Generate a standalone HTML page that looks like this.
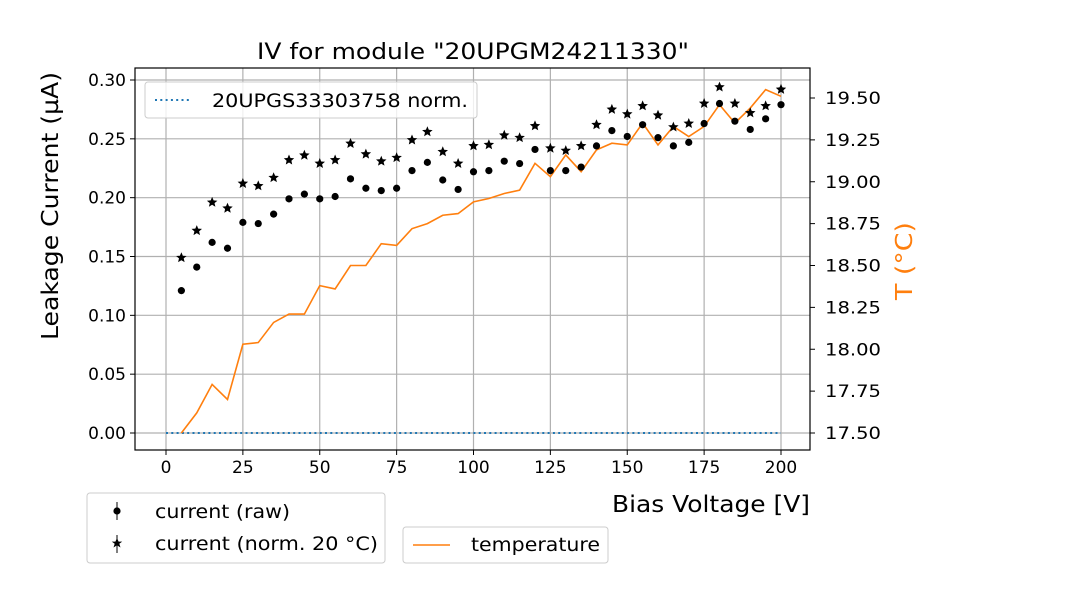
<!DOCTYPE html>
<html><head><meta charset="utf-8"><style>
body{margin:0;background:#fff;}
svg{font-family:"DejaVu Sans","Liberation Sans",sans-serif;}
</style></head><body>
<svg id="chart" width="1080" height="600" viewBox="0 0 1080 600" xmlns="http://www.w3.org/2000/svg">
<g id="grid"></g>
<g id="marks"></g>
<g id="axes"></g>
</svg>
<script>
const voltages=[5,10,15,20,25,30,35,40,45,50,55,60,65,70,75,80,85,90,95,100,105,110,115,120,125,130,135,140,145,150,155,160,165,170,175,180,185,190,195,200];
const currentRaw=[0.121,0.141,0.162,0.157,0.179,0.178,0.186,0.199,0.203,0.199,0.201,0.216,0.208,0.206,0.208,0.223,0.230,0.215,0.207,0.222,0.223,0.231,0.229,0.241,0.223,0.223,0.226,0.244,0.257,0.252,0.262,0.251,0.244,0.247,0.263,0.280,0.265,0.258,0.267,0.279];
const currentNorm=[0.149,0.172,0.196,0.191,0.212,0.210,0.217,0.232,0.236,0.229,0.232,0.246,0.237,0.231,0.234,0.249,0.256,0.239,0.229,0.244,0.245,0.253,0.251,0.261,0.242,0.240,0.244,0.262,0.275,0.271,0.278,0.270,0.260,0.263,0.280,0.294,0.280,0.272,0.278,0.292];
const temperature=[17.50,17.62,17.79,17.70,18.03,18.04,18.16,18.21,18.21,18.38,18.36,18.50,18.50,18.63,18.62,18.72,18.75,18.80,18.81,18.88,18.90,18.93,18.95,19.11,19.03,19.16,19.06,19.19,19.23,19.22,19.35,19.22,19.33,19.27,19.33,19.46,19.35,19.44,19.55,19.51];
const refX=[0,200];
const refY=[0,0];
const xTicks=[0,25,50,75,100,125,150,175,200];
const yTicks=[0.00,0.05,0.10,0.15,0.20,0.25,0.30];
const tTicks=[17.50,17.75,18.00,18.25,18.50,18.75,19.00,19.25,19.50];

const NS="http://www.w3.org/2000/svg";
const L=135,R=810,T=68,B=450;
const xs=v=>166+(v-0)*(781-166)/200;
const ys=v=>433-v*(433-80)/0.30;
const ts=v=>433-(v-17.5)*(433-98)/2.0;
function mk(tag,attrs,parent,text){const e=document.createElementNS(NS,tag);for(const k in attrs)e.setAttribute(k,attrs[k]);if(text!==undefined)e.textContent=text;parent.appendChild(e);return e;}
const grid=document.getElementById('grid'),marks=document.getElementById('marks'),axes=document.getElementById('axes');
xTicks.forEach(v=>{const l=mk('line',{x1:xs(v),x2:xs(v),y1:T,y2:B,stroke:'#b0b0b0','stroke-width':1.2},grid);

});
yTicks.forEach(v=>{const l=mk('line',{x1:L,x2:R,y1:ys(v),y2:ys(v),stroke:'#b0b0b0','stroke-width':1.2},grid);

});
const ref=mk('line',{x1:xs(refX[0]),x2:xs(refX[1]),y1:ys(refY[0]),y2:ys(refY[1]),stroke:'#1f77b4','stroke-width':2,'stroke-dasharray':'2,3.3'},marks);


const tp=mk('polyline',{points:voltages.map((v,i)=>xs(v)+','+ts(temperature[i])).join(' '),fill:'none',stroke:'#ff7f0e','stroke-width':1.6},marks);


function star(cx,cy,r){let p=[];for(let k=0;k<10;k++){const a=-Math.PI/2+k*Math.PI/5;const rr=k%2?r*0.45:r;p.push((cx+rr*Math.cos(a)).toFixed(1)+','+(cy+rr*Math.sin(a)).toFixed(1));}return p.join(' ');}
voltages.forEach((v,i)=>{
const c=mk('circle',{cx:xs(v),cy:ys(currentRaw[i]),r:3.6,fill:'#000'},marks);


const s=mk('polygon',{points:star(xs(v),ys(currentNorm[i]),5.5),fill:'#000'},marks);


});
mk('rect',{x:L,y:T,width:R-L,height:B-T,fill:'none',stroke:'#000','stroke-width':1.2},axes);
xTicks.forEach(v=>{mk('line',{x1:xs(v),x2:xs(v),y1:B,y2:B+5,stroke:'#000'},axes);
const t=mk('text',{x:xs(v),y:B+23,'text-anchor':'middle','font-size':'17'},axes,String(v));

});
yTicks.forEach(v=>{mk('line',{x1:L-5,x2:L,y1:ys(v),y2:ys(v),stroke:'#000'},axes);
const t=mk('text',{x:L-9,y:ys(v)+6,'text-anchor':'end','font-size':'17'},axes,v.toFixed(2));

});
tTicks.forEach(v=>{mk('line',{x1:R,x2:R+5,y1:ts(v),y2:ts(v),stroke:'#000'},axes);
const t=mk('text',{x:R+15,y:ts(v)+6,'font-size':'17','textLength':'56','lengthAdjust':'spacingAndGlyphs'},axes,v.toFixed(2));

});
</script>
<svg width="1080" height="600" style="position:absolute;left:0;top:0" xmlns="http://www.w3.org/2000/svg" font-family="DejaVu Sans, Liberation Sans, sans-serif">
<text x="257" y="59" font-size="22" textLength="432" lengthAdjust="spacingAndGlyphs">IV for module "20UPGM24211330"</text>
<text x="612" y="512" font-size="23" textLength="198" lengthAdjust="spacingAndGlyphs">Bias Voltage [V]</text>
<text transform="translate(58,340) rotate(-90)" font-size="23" textLength="268" lengthAdjust="spacingAndGlyphs">Leakage Current (µA)</text>
<text transform="translate(912,300) rotate(-90)" font-size="23" fill="#ff7f0e" textLength="78" lengthAdjust="spacingAndGlyphs">T (°C)</text>
<g>
<rect x="145" y="82" width="332" height="36" rx="3" fill="#fff" fill-opacity="0.8" stroke="#ccc"/>
<line x1="155" y1="100" x2="190" y2="100" stroke="#1f77b4" stroke-width="2" stroke-dasharray="2,3.3"/>
<text x="212" y="107" font-size="19" textLength="256" lengthAdjust="spacingAndGlyphs">20UPGS33303758 norm.</text>
</g>
<g>
<rect x="87" y="493" width="298" height="70" rx="3" fill="#fff" stroke="#ccc"/>
<line x1="117" y1="502" x2="117" y2="520" stroke="#000"/>
<circle cx="117" cy="511" r="3.6" fill="#000"/>
<text x="155" y="518" font-size="19" textLength="135" lengthAdjust="spacingAndGlyphs">current (raw)</text>
<line x1="117" y1="535" x2="117" y2="553" stroke="#000"/>
<polygon points="117,538 118.6,541.6 122.2,541.6 119.3,543.8 120.5,547.5 117,545.3 113.5,547.5 114.7,543.8 111.8,541.6 115.4,541.6" fill="#000"/>
<text x="155" y="550" font-size="19" textLength="223" lengthAdjust="spacingAndGlyphs">current (norm. 20 °C)</text>
</g>
<g>
<rect x="403" y="527" width="205" height="36" rx="3" fill="#fff" stroke="#ccc"/>
<line x1="413" y1="545" x2="450" y2="545" stroke="#ff7f0e" stroke-width="1.6"/>
<text x="471" y="551" font-size="19" textLength="129" lengthAdjust="spacingAndGlyphs">temperature</text>
</g>
</svg>
</body></html>
